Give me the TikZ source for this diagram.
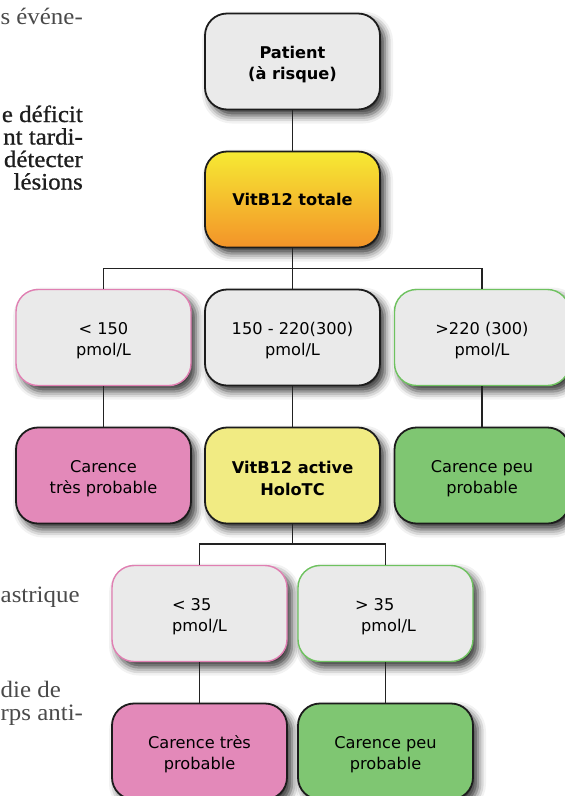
\documentclass[tikz,border=0pt]{standalone}
\usepackage{fontspec}
\setmainfont{DejaVu Sans}
\newfontfamily\bodyserif[FakeStretch=1.06]{Liberation Serif}
\newfontfamily\bodyserifsemi[FakeStretch=1.06,FakeBold=0.8]{Liberation Serif}
\usetikzlibrary{shadows.blur}
\definecolor{graybox}{HTML}{EAEAEA}
\definecolor{pinkbox}{HTML}{E389B9}
\definecolor{greenbox}{HTML}{7FC672}
\definecolor{yellowbox}{HTML}{F1EB83}
\definecolor{pinkedge}{HTML}{E07FB2}
\definecolor{greenedge}{HTML}{6EC25F}
\definecolor{darkedge}{HTML}{1C1C1C}
\definecolor{vtop}{HTML}{F6EA33}
\definecolor{vmid}{HTML}{F8C52D}
\definecolor{vbot}{HTML}{F39329}
\definecolor{linecol}{HTML}{222222}
\definecolor{bodydark}{HTML}{1E1E1E}
\definecolor{bodygray}{HTML}{4A4A4A}
\newcommand{\toprule}{\rule{0pt}{18.5pt}}
\tikzset{
  box/.style={rectangle, rounded corners=22pt, minimum width=175pt, minimum height=96pt,
    inner sep=0pt, align=center, font=\fontsize{16.2}{21.6}\selectfont, text=black,
    line width=1.8pt, draw=darkedge,
    blur shadow={shadow xshift=5pt, shadow yshift=-6pt, shadow blur radius=8pt, shadow opacity=80}},
  darkgray/.style={box, fill=graybox},
  lightpink/.style={box, fill=graybox, draw=pinkedge, line width=1.4pt},
  lightgreen/.style={box, fill=graybox, draw=greenedge, line width=1.4pt},
  pinkfill/.style={box, fill=pinkbox},
  greenfill/.style={box, fill=greenbox},
  yellowfill/.style={box, fill=yellowbox},
  orangefill/.style={box, top color=vtop, middle color=vmid, bottom color=vbot},
  conn/.style={draw=linecol, line width=1.5pt},
  bodytxt/.style={inner sep=0pt, font=\bodyserif\fontsize{23.5}{23.5}\selectfont},
  bodysemi/.style={inner sep=0pt, font=\bodyserifsemi\fontsize{23.5}{23.5}\selectfont},
}
\begin{document}
\begin{tikzpicture}[x=1pt,y=-1pt]
\useasboundingbox (0,0) rectangle (565,796);
% body text fragments on the left
\node[bodytxt, text=bodygray, anchor=base east] (t1) at (83,24) {s\ événe-};
\node[bodysemi, text=bodydark, anchor=base east] (t2) at (83,122) {e\ déficit};
\node[bodysemi, text=bodydark, anchor=base east] (t3) at (83,144.5) {nt tardi-};
\node[bodysemi, text=bodydark, anchor=base east] (t4) at (83,167) {détecter};
\node[bodysemi, text=bodydark, anchor=base east] (t5) at (83,189.5) {lésions};
\node[bodytxt, text=bodygray, anchor=base west] (t6) at (0.5,602) {astrique};
\node[bodytxt, text=bodygray, anchor=base west] (t7) at (0.5,697) {die de};
\node[bodytxt, text=bodygray, anchor=base west] (t8) at (0.5,720) {rps anti-};

% boxes
\node[darkgray] (pat) at (292.5,61.5) {\toprule\textbf{Patient}\\\textbf{(à risque)}};
\node[orangefill] (vit) at (292.5,199.5) {\textbf{VitB12 totale}};

\node[lightpink] (b1) at (103.5,337.5) {\toprule< 150\\pmol/L};
\node[darkgray] (b2) at (292.5,337.5) {\toprule150 - 220(300)\\pmol/L};
\node[lightgreen] (b3) at (482,337.5) {\toprule>220 (300)\\pmol/L};

\node[pinkfill] (c1) at (103.5,475.5) {\toprule Carence\\très probable};
\node[yellowfill] (c2) at (292.5,475.5) {\toprule\textbf{VitB12 active}\\\textbf{HoloTC}};
\node[greenfill] (c3) at (482,475.5) {\toprule Carence peu\\probable};

\node[lightpink, align=left] (d1) at (199.5,613.5) {\toprule< 35\\pmol/L};
\node[lightgreen, align=left] (d2) at (385.5,613.5) {\toprule> 35\\\hspace*{6pt}pmol/L};

\node[pinkfill] (e1) at (199.5,751.5) {\toprule Carence très\\probable};
\node[greenfill] (e2) at (385.5,751.5) {\toprule Carence peu\\probable};

% connectors
\coordinate (j1) at (292.5,268.5);
\coordinate (j2) at (292.5,544);
\draw[conn] (pat) -- (vit);
\draw[conn] (vit) -- (b2);
\draw[conn] (b1.north) |- (j1) -| (b3.north);
\draw[conn] (b1) -- (c1);
\draw[conn] (b2) -- (c2);
\draw[conn] (b3) -- (c3);
\draw[conn] (c2) -- (j2);
\draw[conn] (d1.north) |- (j2) -| (d2.north);
\draw[conn] (d1) -- (e1);
\draw[conn] (d2) -- (e2);
\end{tikzpicture}
\end{document}
